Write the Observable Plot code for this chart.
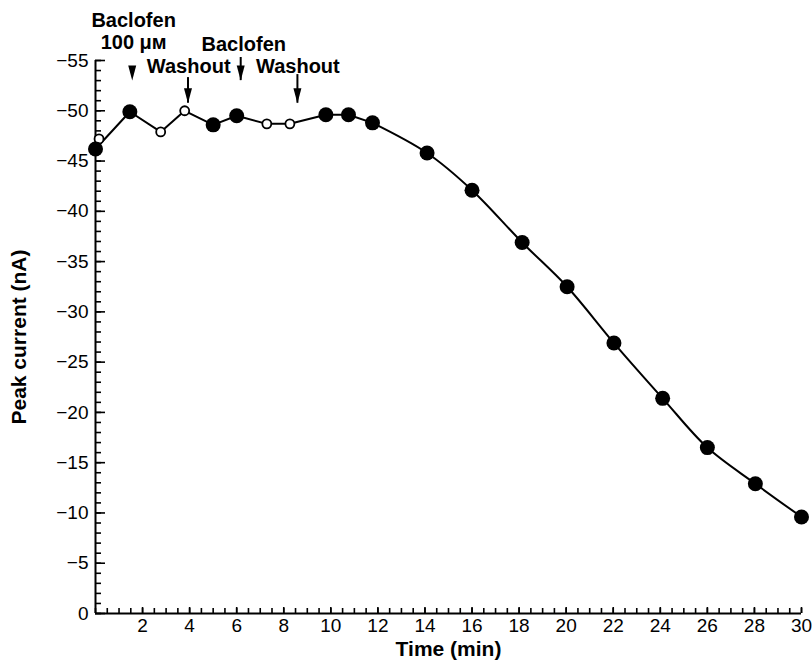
<!DOCTYPE html>
<html>
<head>
<meta charset="utf-8">
<script src="https://cdn.jsdelivr.net/npm/d3@7"></script>
<script src="https://cdn.jsdelivr.net/npm/@observablehq/plot@0.6"></script>
<style>
  html, body { margin: 0; padding: 0; background: #fff; }
  #chart svg { display: block; }
</style>
</head>
<body>
<div id="chart"></div>
<script>
// ---- data ----
const time    = [0, 1.46, 2.77, 3.79, 5.0, 6.0, 7.28, 8.26, 9.79, 10.75, 11.77, 14.09, 16.0, 18.13, 20.04, 22.03, 24.1, 26.0, 28.04, 30.0];
const current = [-46.2, -49.9, -47.9, -50.0, -48.6, -49.5, -48.7, -48.7, -49.6, -49.6, -48.8, -45.8, -42.1, -36.9, -32.5, -26.9, -21.4, -16.5, -12.9, -9.6];
const isOpen  = [false, false, true, true, false, false, true, true, false, false, false, false, false, false, false, false, false, false, false, false];
// partly hidden open circle behind the first point
const hiddenTime = [0.15];
const hiddenCurrent = [-47.2];

// arrows (drug application markers)
const arrowTime = [1.56, 3.93, 6.17, 8.58];
const arrowTip  = [-53.0, -50.75, -53.0, -50.75];
const arrowTail = [null, -53.3, -55.3, -53.6];

// annotation texts
const annotText = ["Baclofen", "100 μᴍ", "Washout", "Baclofen", "Washout"];
const annotX    = [1.62, 1.62, 3.96, 6.3, 8.6];
const annotY    = [-59.0, -56.8, -54.4, -56.6, -54.4];

// ticks
const yLabelTicks = d3.range(0, -56, -5);
const yMinorTicks = d3.range(0, -56, -1);
const xLabelTicks = d3.range(2, 31, 2);
const xMinorTicks = d3.range(0, 30.01, 0.5);

const points = time.map((t, i) => ({t, c: current[i], open: isOpen[i]}));
const splitIndex = 10;
const linearPart = points.slice(0, splitIndex + 1);
const curvedPart = points.slice(splitIndex);
const arrows = arrowTime.map((t, i) => ({t, tip: arrowTip[i], tail: arrowTail[i]}));
const annots = annotText.map((s, i) => ({s, x: annotX[i], y: annotY[i]}));

const headShape = {
  draw(context, l) {
    context.moveTo(0, -l);
    context.lineTo(-4, 0);
    context.lineTo(4, 0);
    context.closePath();
  }
};

const font = "'Liberation Sans', Arial, Helvetica, sans-serif";

const chart = Plot.plot({
  width: 812,
  height: 665,
  marginLeft: 95,
  marginRight: 11,
  marginTop: 60,
  marginBottom: 52,
  style: {fontFamily: font, fontSize: "19px", color: "#000", background: "#fff"},
  x: {domain: [0, 30]},
  y: {domain: [0, -55]},
  marks: [
    Plot.axisY({ticks: yMinorTicks, tickSize: -6, text: null, strokeWidth: 1.6}),
    Plot.axisY({ticks: yLabelTicks, tickSize: -10, tickPadding: 17, strokeWidth: 1.6, fontSize: 19,
                tickFormat: d => d === 0 ? "0" : "\u2212" + Math.abs(d), label: null}),
    Plot.axisX({ticks: xMinorTicks, tickSize: -5, text: null, strokeWidth: 1.6}),
    Plot.axisX({ticks: xLabelTicks, tickSize: -6, tickPadding: 11, strokeWidth: 1.6, fontSize: 19,
                tickFormat: d => String(d), label: null}),
    Plot.ruleX([0], {y1: 0, y2: -55, strokeWidth: 2}),
    Plot.ruleY([0], {x1: 0, x2: 30, strokeWidth: 2}),
    Plot.text(["Time (min)"], {frameAnchor: "bottom", dy: 42, fontSize: 21, fontWeight: "bold"}),
    Plot.text(["Peak current (nA)"], {frameAnchor: "left", textAnchor: "middle", dx: -76, rotate: -90, fontSize: 21, fontWeight: "bold"}),
    // data line
    Plot.line(linearPart, {x: "t", y: "c", stroke: "#000", strokeWidth: 2}),
    Plot.line(curvedPart, {x: "t", y: "c", stroke: "#000", strokeWidth: 2, curve: "catmull-rom"}),
    Plot.dot(hiddenTime.map((t, i) => ({t, c: hiddenCurrent[i]})), {x: "t", y: "c", r: 4.5, fill: "#fff", stroke: "#000", strokeWidth: 1.8}),
    Plot.dot(points.filter(d => !d.open), {x: "t", y: "c", r: 7.5, fill: "#000", stroke: "none"}),
    Plot.dot(points.filter(d => d.open), {x: "t", y: "c", r: 4.5, fill: "#fff", stroke: "#000", strokeWidth: 1.8}),
    // arrows
    Plot.ruleX(arrows.filter(d => d.tail !== null), {x: "t", y1: "tail", y2: "tip", stroke: "#000", strokeWidth: 2}),
    Plot.vector(arrows, {x: "t", y: "tip", length: 15, rotate: 180, anchor: "end", shape: headShape, fill: "#000", stroke: "none"}),
    // annotations
    Plot.text(annots, {x: "x", y: "y", text: "s", fontSize: 20, fontWeight: "bold", fill: "#000"})
  ]
});

document.getElementById("chart").appendChild(chart);
</script>
</body>
</html>
